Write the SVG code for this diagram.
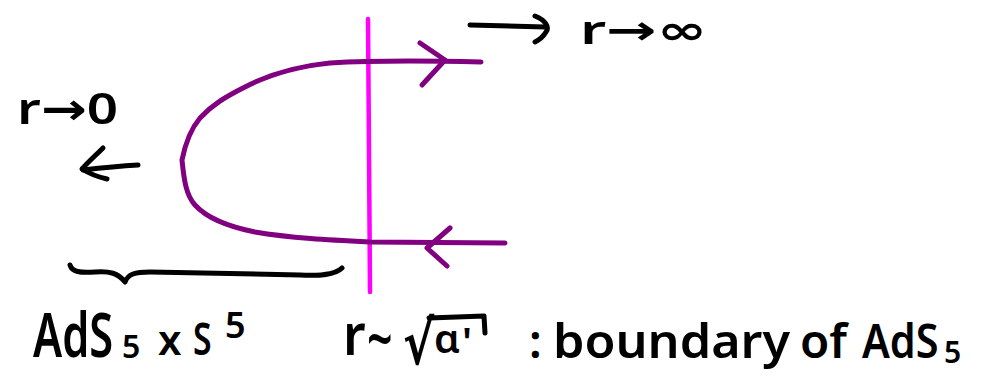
<svg xmlns="http://www.w3.org/2000/svg" width="995" height="384" viewBox="0 0 995 384">
<style>
  .hw { font-family: "Noto Sans", "DejaVu Sans", sans-serif; font-weight: 600; fill: #000; }
  .ink { fill: none; stroke: #000; stroke-width: 5; stroke-linecap: round; stroke-linejoin: round; }
  .string { fill: none; stroke: #800080; stroke-width: 5; stroke-linecap: round; stroke-linejoin: round; }
  .boundary { fill: none; stroke: #FF00FF; stroke-width: 4.5; stroke-linecap: round; }
</style>
<rect width="995" height="384" fill="#fff"/>

<g id="boundary-line">
  <path class="boundary" d="M368,19 L369,150 L370,292"/>
</g>

<g id="string">
  <path class="string" d="M481,62 C440,61 380,60 330,63 C300,66 270,74 245,87 C225,97 212,105 200,118 C190,130 185,145 182,160 C184,180 186,195 195,205 C205,216 225,226 255,232 C290,238 330,240 370,242 L505,243"/>
  <path class="string" d="M420,43 L445,60 L422,85"/>
  <path class="string" d="M450,228 L427,248 L447,266"/>
</g>

<g id="connectors">
  <path class="ink" d="M138,165 C120,166 100,168 83,170"/>
  <path class="ink" d="M103,148 C95,156 88,162 82,169 C90,174 98,177 107,179"/>
  <path class="ink" d="M470,25 L545,27"/>
  <path class="ink" d="M535,16 C545,20 550,27 546,32 C543,37 539,40 535,42"/>
  <path class="ink" d="M70,265 C72,272 80,273 95,272 C110,271 118,273 125,282 C128,274 135,272 150,272 L300,275 C320,276 335,275 342,268"/>
</g>

<g id="label-r0">
  <text class="hw" x="17" y="124" font-size="44" textLength="101" lengthAdjust="spacingAndGlyphs">r→0</text>
</g>

<g id="label-rinf">
  <text class="hw" x="580" y="44" font-size="40" textLength="127" lengthAdjust="spacingAndGlyphs">r→∞</text>
</g>

<g id="label-ads5s5">
  <text class="hw" font-size="62" transform="translate(33,357) scale(0.7,1)">AdS</text>
  <text class="hw" x="122" y="358" font-size="32">5</text>
  <text class="hw" x="158" y="355" font-size="42">x</text>
  <text class="hw" font-size="45" transform="translate(193,355) scale(0.75,1)">S</text>
  <text class="hw" x="225" y="338" font-size="36">5</text>
</g>

<g id="label-boundary">
  <text class="hw" font-size="58" transform="translate(343,355) scale(0.9,1)">r</text>
  <text class="hw" font-size="64" transform="translate(367,362) scale(0.7,1)">~</text>
  <text class="hw" font-size="60" transform="translate(403,364) scale(0.78,1)">√</text>
  <path class="ink" d="M429,318 L484,316 L485,333"/>
  <text class="hw" x="434" y="353" font-size="40" textLength="26" lengthAdjust="spacingAndGlyphs">α</text>
  <text class="hw" x="462" y="356" font-size="40">'</text>
  <text class="hw" x="529" y="358" font-size="46">:</text>
  <text class="hw" x="553" y="358" font-size="46" textLength="237" lengthAdjust="spacingAndGlyphs">boundary</text>
  <text class="hw" x="800" y="358" font-size="46" textLength="47" lengthAdjust="spacingAndGlyphs">of</text>
  <text class="hw" font-size="46" transform="translate(862,358) scale(0.9,1)">AdS</text>
  <text class="hw" x="944" y="363" font-size="30">5</text>
</g>
</svg>
